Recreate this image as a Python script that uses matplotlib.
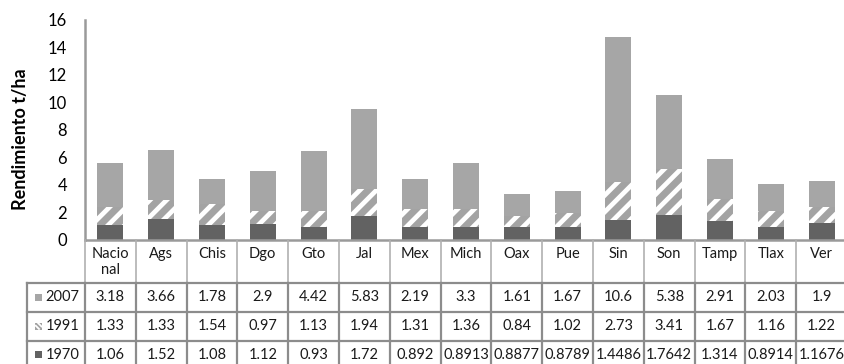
import numpy as np
import matplotlib
matplotlib.use("Agg")
import matplotlib.pyplot as plt
from matplotlib.patches import Rectangle

plt.rcParams['font.family'] = ['Lato', 'DejaVu Sans']
plt.rcParams['hatch.linewidth'] = 3.4

# rendimiento por estado (t/ha)
estados = ['Nacio\nnal', 'Ags', 'Chis', 'Dgo', 'Gto', 'Jal', 'Mex', 'Mich',
           'Oax', 'Pue', 'Sin', 'Son', 'Tamp', 'Tlax', 'Ver']
r1970 = [1.06, 1.52, 1.08, 1.12, 0.93, 1.72, 0.892, 0.8913, 0.8877, 0.8789,
         1.4486, 1.7642, 1.314, 0.8914, 1.1676]
r1991 = [1.33, 1.33, 1.54, 0.97, 1.13, 1.94, 1.31, 1.36, 0.84, 1.02,
         2.73, 3.41, 1.67, 1.16, 1.22]
r2007 = [3.18, 3.66, 1.78, 2.9, 4.42, 5.83, 2.19, 3.3, 1.61, 1.67,
         10.6, 5.38, 2.91, 2.03, 1.9]
txt1970 = ['1.06', '1.52', '1.08', '1.12', '0.93', '1.72', '0.892', '0.8913',
           '0.8877', '0.8789', '1.4486', '1.7642', '1.314', '0.8914', '1.1676']
txt1991 = ['1.33', '1.33', '1.54', '0.97', '1.13', '1.94', '1.31', '1.36',
           '0.84', '1.02', '2.73', '3.41', '1.67', '1.16', '1.22']
txt2007 = ['3.18', '3.66', '1.78', '2.9', '4.42', '5.83', '2.19', '3.3',
           '1.61', '1.67', '10.6', '5.38', '2.91', '2.03', '1.9']

c70 = '#626262'
c07 = '#A6A6A6'
c91 = '#A3A3A3'
grid = '#8C8C8C'

W, H = 845, 364
fig = plt.figure(figsize=(W / 100, H / 100), dpi=100)

# ejes en pixeles
x0, x1 = 85, 847
ytop, ybase = 20, 239.5
ax = fig.add_axes([x0 / W, (H - ybase) / H, (x1 - x0) / W, (ybase - ytop) / H])

x = np.arange(len(estados))
a70 = np.array(r1970)
a91 = np.array(r1991)
a07 = np.array(r2007)
ancho = 0.51
ax.bar(x, a70, ancho, color=c70, linewidth=0)
ax.bar(x, a91, ancho, bottom=a70, facecolor=c91, edgecolor='white',
       hatch='//', linewidth=0)
ax.bar(x, a07, ancho, bottom=a70 + a91, color=c07, linewidth=0)

ax.set_xlim(-0.5, len(estados) - 0.5)
ax.set_ylim(0, 16)
ax.set_yticks(range(0, 17, 2))
ax.tick_params(axis='y', length=0, pad=13, labelsize=12)
ax.set_xticks([])
for s in ['top', 'right']:
    ax.spines[s].set_visible(False)
ax.spines['left'].set_color('#9A9A9A')
ax.spines['left'].set_linewidth(1.8)
ax.spines['bottom'].set_color('#9A9A9A')
ax.spines['bottom'].set_linewidth(1.8)
ax.set_ylabel('Rendimiento t/ha', fontsize=13, fontweight='bold', va='center')
ax.yaxis.set_label_coords(-0.085, 0.456)

# tabla de datos debajo del grafico
ybot = 369
tax = fig.add_axes([x0 / W, (H - ybot) / H, (x1 - x0) / W, (ybot - ybase) / H])
tax.set_xlim(-0.5, len(estados) - 0.5)
tax.set_ylim(ybot, ybase)
tax.axis('off')

colw = (x1 - x0) / len(estados)
xlab = -0.5 - (x0 - 27) / colw
filas = [ybase, 282.7, 311.7, 340.5, ybot]

# lineas verticales del encabezado
for i in range(len(estados) + 1):
    tax.plot([i - 0.5, i - 0.5], [filas[0], filas[1]], color='#B0B0B0',
             lw=1.2, clip_on=False)
# lineas del cuerpo
for i in range(len(estados) + 1):
    tax.plot([i - 0.5, i - 0.5], [filas[1], filas[-1]], color=grid,
             lw=1.6, clip_on=False)
tax.plot([xlab, xlab], [filas[1], filas[-1]], color=grid, lw=1.6, clip_on=False)
for yy in filas[1:4]:
    tax.plot([xlab, len(estados) - 0.5], [yy, yy], color=grid, lw=1.6,
             clip_on=False)

for i, e in enumerate(estados):
    tax.text(i, 247, e, ha='center', va='top', fontsize=10.5,
             multialignment='center', linespacing=1.2, color='#1a1a1a')

series = [('2007', txt2007), ('1991', txt1991), ('1970', txt1970)]
for k, (nombre, vals) in enumerate(series):
    yc = (filas[k + 1] + filas[k + 2]) / 2
    for i, v in enumerate(vals):
        tax.text(i, yc, v, ha='center', va='center', fontsize=10.5,
                 color='#1a1a1a')
    tax.text(xlab + 0.36, yc, nombre, ha='left', va='center', fontsize=10.5,
             color='#1a1a1a', clip_on=False)

# claves de color en la tabla
kx = xlab + 0.16
kw = 7 / colw
for k, fc in enumerate([c07, c91, c70]):
    yc = (filas[k + 1] + filas[k + 2]) / 2
    tax.add_patch(Rectangle((kx, yc - 3.5), kw, 7, facecolor=fc,
                            linewidth=0, clip_on=False))
# rayas blancas de la clave de 1991
yc = (filas[2] + filas[3]) / 2
for xa, ya, xb, yb in [(0, -1.0, 4.5, 3.5), (2.5, -3.5, 7, 1.0)]:
    tax.plot([kx + xa / colw, kx + xb / colw], [yc + ya, yc + yb],
             color='white', lw=1.3, solid_capstyle='butt', clip_on=False)

fig.savefig('out.png', dpi=100)
